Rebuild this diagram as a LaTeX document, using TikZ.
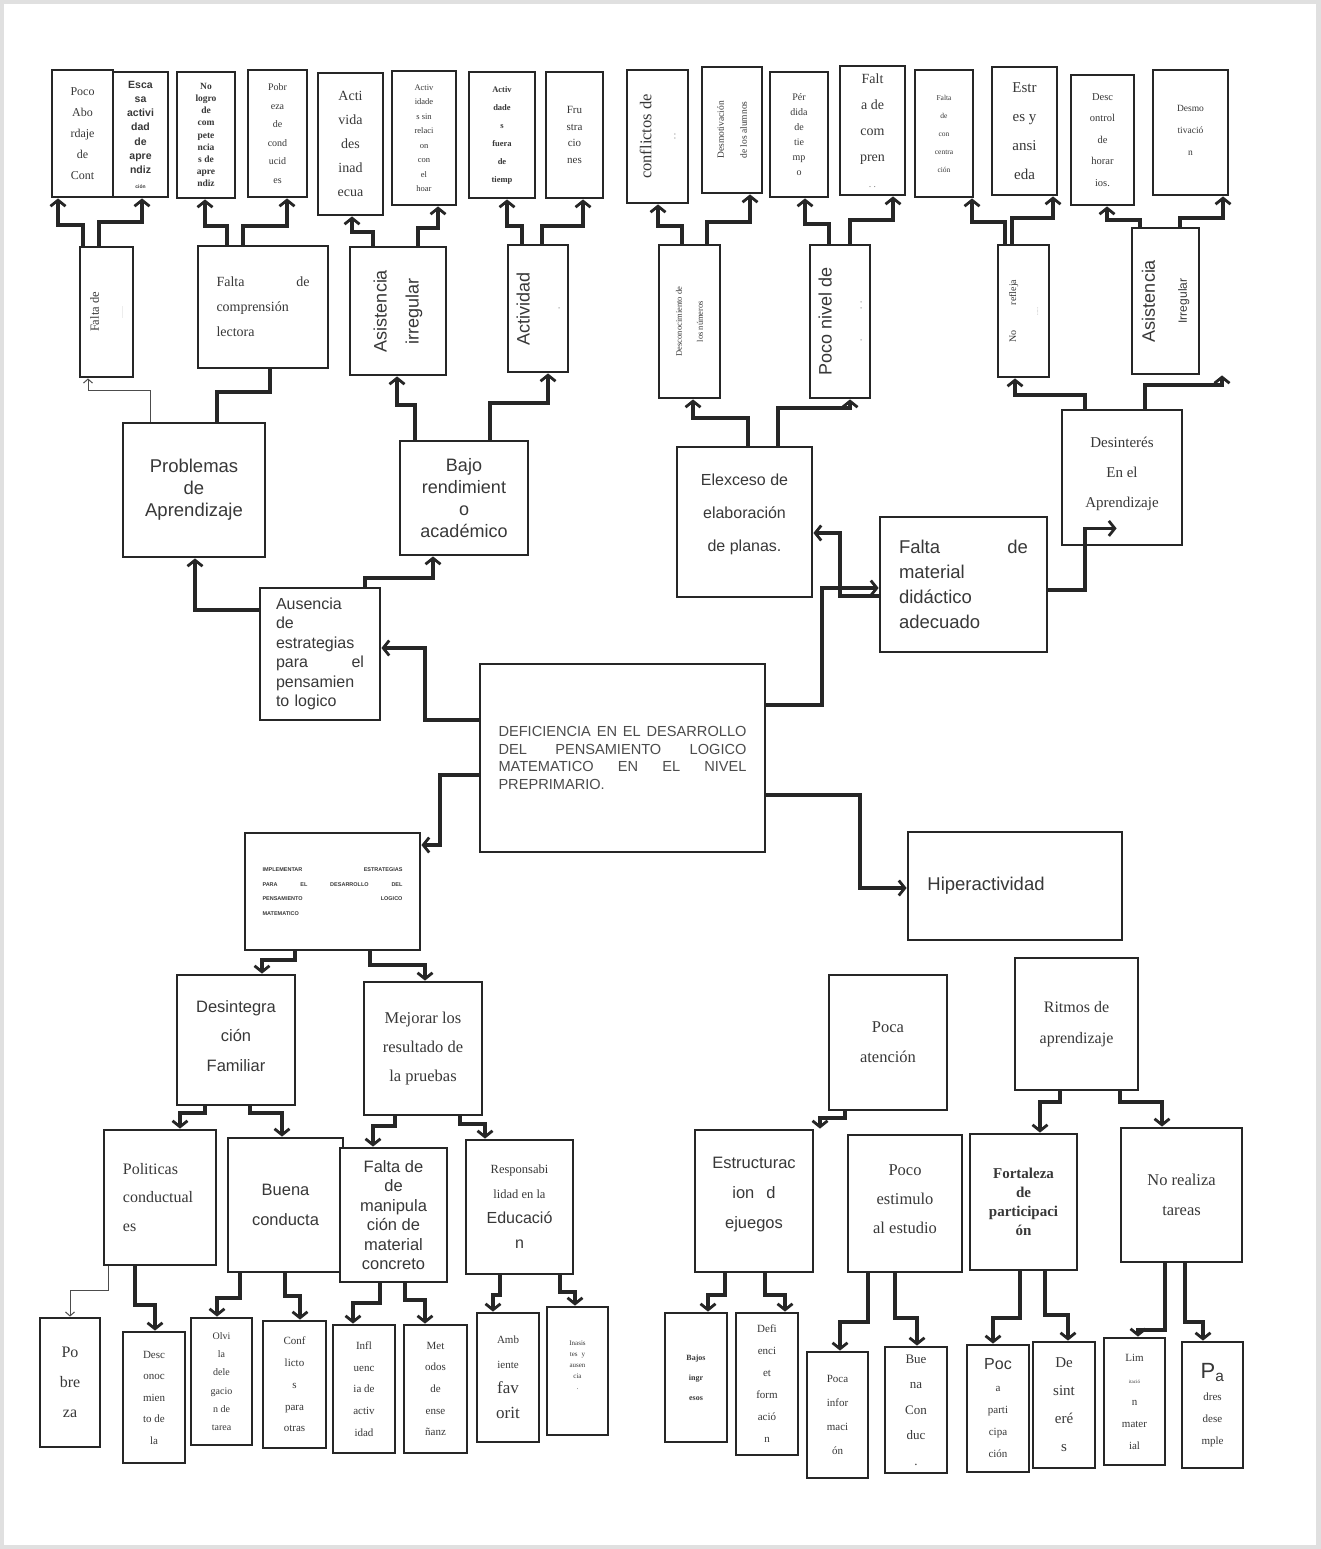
\documentclass[tikz,border=0pt]{standalone}
\usepackage{fontspec}
\setmainfont{Liberation Serif}
\setsansfont{Liberation Sans}
\usetikzlibrary{fit,arrows.meta}
\newcommand{\myfz}[2]{\fontsize{#1}{#2}\selectfont}
\newcommand{\bx}[7]{%
  \node[box, fit={(#2,#3) (#4,#5)}] (#1) {};
  \node[txt, #6] (#1t) at (#1.center) {#7};}
\tikzset{
  box/.style={draw=black!85, line width=2.8pt, inner sep=0pt, fill=white, rectangle},
  txt/.style={text=black!78, align=center, inner sep=0pt},
  conn/.style={draw=black!85, line width=3.2pt, line join=miter,
    -{Straight Barb[length=6pt,width=15pt,line width=2.8pt]}},
  nconn/.style={draw=black!85, line width=3.2pt, line join=miter},
  thinc/.style={draw=black!70, line width=1pt, -{Straight Barb[length=4pt,width=9pt]}}
}
\begin{document}
\begin{tikzpicture}[x=1pt,y=-1pt]
\useasboundingbox (0,0) rectangle (1320,1549);
\fill[white] (0,0) rectangle (1320,1549);
\draw[black!12, line width=8pt] (0,0) rectangle (1320,1549);

% ---------- top row ----------
\bx{t1}{52}{70}{113}{197}{font=\myfz{12}{21}}{Poco\\Abo\\rdaje\\de\\Cont}
\bx{t2}{113}{72}{168}{197}{font=\sffamily\bfseries\myfz{10.5}{14.3}}{Esca\\sa\\activi\\dad\\de\\apre\\ndiz\\{\myfz{5}{6}ción}}
\bx{t3}{177}{72}{235}{198}{font=\bfseries\myfz{9.5}{12.2}}{No\\logro\\de\\com\\pete\\ncia\\s de\\apre\\ndiz}
\bx{t4}{248}{70}{307}{197}{font=\myfz{10}{18.5}}{Pobr\\eza\\de\\cond\\ucid\\es}
\bx{t5}{318}{73}{383}{215}{font=\myfz{14}{24}}{Acti\\vida\\des\\inad\\ecua}
\bx{t6}{392}{71}{456}{205}{font=\myfz{8.5}{14.5}}{Activ\\idade\\s sin\\relaci\\on\\con\\el\\hoar}
\bx{t7}{469}{72}{535}{198}{font=\bfseries\myfz{8.5}{18}}{Activ\\dade\\s\\fuera\\de\\tiemp}
\bx{t8}{546}{72}{603}{198}{font=\myfz{11}{16.5}}{Fru\\stra\\cio\\nes}
\bx{t9}{627}{70}{688}{203}{font=\myfz{16.5}{24}, rotate=90}{conflictos de\\{\myfz{8}{10}. .}}
\bx{t10}{702}{67}{762}{193}{font=\myfz{9.5}{23}, rotate=90}{Desmotivación\\de los alumnos}
\bx{t11}{770}{72}{828}{197}{font=\myfz{10}{15}}{Pér\\dida\\de\\tie\\mp\\o}
\bx{t12}{840}{66}{905}{195}{font=\myfz{14}{26}}{Falt\\a de\\com\\pren\\{\myfz{8}{8}. .}}
\bx{t13}{915}{70}{973}{197}{font=\myfz{7.5}{18}}{Falta\\de\\con\\centra\\ción}
\bx{t14}{992}{67}{1057}{195}{font=\myfz{15}{29}}{Estr\\es y\\ansi\\eda}
\bx{t15}{1071}{75}{1134}{205}{font=\myfz{10.5}{21.5}}{Desc\\ontrol\\de\\horar\\ios.}
\bx{t16}{1153}{70}{1228}{195}{font=\myfz{9.5}{22}, yshift=2pt}{Desmo\\tivació\\n}

% ---------- second tier ----------
\bx{s1}{80}{247}{133}{377}{font=\myfz{12.5}{24}, rotate=90}{Falta de\\{\myfz{3}{4}\ldots\ldots\ldots\ldots}}
\bx{s2}{198}{246}{328}{368}{font=\myfz{14}{25}, text width=93pt, align=left}{Falta\hfill de\\comprensión\\lectora}
\bx{s3}{350}{247}{446}{375}{font=\sffamily\myfz{18}{32}, rotate=90}{Asistencia\\irregular}
\bx{s4}{508}{245}{568}{372}{font=\sffamily\myfz{18}{30}, rotate=90}{Actividad\\{\myfz{8}{8}.}}
\bx{s5}{659}{245}{720}{398}{font=\myfz{8.5}{21}, rotate=90}{Desconocimiento de\\los números}
\bx{s6}{810}{245}{870}{398}{font=\sffamily\myfz{18}{30}, rotate=90}{Poco nivel de\\{\myfz{8}{8}.\hspace{30pt}. .}}
\bx{s7}{998}{245}{1049}{377}{font=\myfz{10}{22}, rotate=90}{No\hspace{25pt}refleja\\{\myfz{4}{5}\ldots\ldots}}
\bx{s8}{1132}{228}{1199}{374}{font=\sffamily\myfz{18}{32}, rotate=90}{Asistencia\\{\myfz{12}{12}Irregular}}

% ---------- third tier ----------
\bx{p1}{123}{423}{265}{557}{font=\sffamily\myfz{18.5}{22}}{Problemas\\de\\Aprendizaje}
\bx{p2}{400}{441}{528}{555}{font=\sffamily\myfz{18}{22}}{Bajo\\rendimient\\o\\académico}
\bx{p3}{677}{447}{812}{597}{font=\sffamily\myfz{16}{33}, yshift=8pt}{Elexceso de\\elaboración\\de planas.}
\bx{p4}{1062}{410}{1182}{545}{font=\myfz{15}{30}, yshift=4pt}{Desinterés\\En el\\Aprendizaje}
\bx{m1}{880}{517}{1047}{652}{font=\sffamily\myfz{18.5}{25}, text width=129pt, align=left}{Falta\hfill de\\material\\didáctico\\adecuado}
\bx{a1}{260}{588}{380}{720}{font=\sffamily\myfz{16}{19.5}, text width=88pt, align=left}{Ausencia\\de\\estrategias\\para\hfill el\\pensamien\\to logico}
\bx{C}{480}{664}{765}{852}{font=\sffamily\myfz{14.6}{17.5}, text width=248pt, align=left, text=black!70}{DEFICIENCIA\hfill EN\hfill EL\hfill DESARROLLO\\DEL\hfill PENSAMIENTO\hfill LOGICO\\MATEMATICO\hfill EN\hfill EL\hfill NIVEL\\PREPRIMARIO.}
\bx{I}{245}{833}{420}{950}{font=\sffamily\bfseries\myfz{5.5}{14.5}, text width=140pt, align=left}{IMPLEMENTAR\hfill ESTRATEGIAS\\PARA\hfill EL\hfill DESARROLLO\hfill DEL\\PENSAMIENTO\hfill LOGICO\\MATEMATICO}
\bx{H}{908}{832}{1122}{940}{font=\sffamily\myfz{18.5}{22}, xshift=-29pt}{Hiperactividad}

% ---------- lower tier ----------
\bx{d1}{177}{975}{295}{1105}{font=\sffamily\myfz{16.5}{29.5}, yshift=4pt}{Desintegra\\ción\\Familiar}
\bx{d2}{364}{982}{482}{1115}{font=\myfz{16.5}{29}}{Mejorar los\\resultado de\\la pruebas}
\bx{d3}{829}{975}{947}{1110}{font=\myfz{16.5}{30}}{Poca\\atención}
\bx{d4}{1015}{958}{1138}{1090}{font=\myfz{16}{31}}{Ritmos de\\aprendizaje}

\bx{e1}{104}{1130}{216}{1265}{font=\myfz{16}{28.5}, align=left, xshift=-2pt}{Politicas\\conductual\\es}
\bx{e2}{228}{1138}{343}{1272}{font=\sffamily\myfz{16.5}{30}}{Buena\\conducta}
\bx{e3}{340}{1148}{447}{1282}{font=\sffamily\myfz{16.5}{19.5}}{Falta de\\de\\manipula\\ción de\\material\\concreto}
\bx{e4}{466}{1140}{573}{1274}{font=\myfz{12.5}{25}}{Responsabi\\lidad en la\\{\sffamily\myfz{16}{30}Educació}\\{\sffamily\myfz{16}{30}n}}
\bx{e5}{695}{1130}{813}{1272}{font=\sffamily\myfz{16.5}{30}, yshift=6pt}{Estructurac\\ion\hspace{12pt}d\\ejuegos}
\bx{e6}{848}{1135}{962}{1272}{font=\myfz{16.5}{29}, yshift=4pt}{Poco\\estimulo\\al estudio}
\bx{e7}{970}{1134}{1077}{1270}{font=\bfseries\myfz{15}{19}}{Fortaleza\\de\\participaci\\ón}
\bx{e8}{1121}{1128}{1242}{1262}{font=\myfz{16.5}{30}}{No realiza\\tareas}

% ---------- bottom row ----------
\bx{b1}{40}{1318}{100}{1447}{font=\myfz{16}{30}}{Po\\bre\\za}
\bx{b2}{123}{1332}{185}{1463}{font=\myfz{11}{21.5}}{Desc\\onoc\\mien\\to de\\la}
\bx{b3}{191}{1318}{252}{1445}{font=\myfz{10}{18.3}}{Olvi\\la\\dele\\gacio\\n de\\tarea}
\bx{b4}{263}{1321}{326}{1448}{font=\myfz{11}{21.7}}{Conf\\licto\\s\\para\\otras}
\bx{b5}{333}{1325}{395}{1453}{font=\myfz{11}{21.7}}{Infl\\uenc\\ia de\\activ\\idad}
\bx{b6}{404}{1325}{467}{1453}{font=\myfz{11}{21.7}}{Met\\odos\\de\\ense\\ñanz}
\bx{b7}{477}{1313}{539}{1442}{font=\myfz{11}{25}}{Amb\\iente\\{\myfz{17}{28}fav}\\{\myfz{17}{28}orit}}
\bx{b8}{547}{1307}{608}{1435}{font=\myfz{7}{11}, yshift=6pt}{Inasis\\tes\hspace{4pt}y\\ausen\\cia\\.}
\bx{b9}{665}{1313}{727}{1442}{font=\bfseries\myfz{8}{20}}{Bajos\\ingr\\esos}
\bx{b10}{736}{1313}{798}{1455}{font=\myfz{11}{22}}{Defi\\enci\\et\\form\\ació\\n}
\bx{b11}{807}{1352}{868}{1478}{font=\myfz{11}{24}}{Poca\\infor\\maci\\ón}
\bx{b12}{885}{1347}{947}{1473}{font=\myfz{13}{25.5}}{Bue\\na\\Con\\duc\\.}
\bx{b13}{967}{1345}{1029}{1472}{font=\myfz{11}{22}}{{\sffamily\myfz{16}{22}Poc}\\a\\parti\\cipa\\ción}
\bx{b14}{1033}{1342}{1095}{1468}{font=\myfz{15}{28}}{De\\sint\\eré\\s}
\bx{b15}{1104}{1338}{1165}{1465}{font=\myfz{11}{22}}{Lim\\{\myfz{5}{8}itació}\\n\\mater\\ial}
\bx{b16}{1182}{1342}{1243}{1468}{font=\myfz{11}{22}}{{\sffamily\myfz{22}{24}P\textsubscript{a}}\\dres\\dese\\mple}

% ---------- connectors: second tier -> top row ----------
\draw[conn] (s1.north -| 83,0) -- (83,225) -| (t1.south -| 58,0);
\draw[conn] (s1.north -| 99,0) -- (99,222) -| (t2.south -| 142,0);
\draw[conn] (s2.north -| 227,0) -- (227,226) -| (t3.south -| 205,0);
\draw[conn] (s2.north -| 243,0) -- (243,226) -| (t4.south -| 287,0);
\draw[conn] (s3.north -| 373,0) -- (373,232) -| (t5.south -| 352,0);
\draw[conn] (s3.north -| 418,0) -- (418,228) -| (t6.south -| 438,0);
\draw[conn] (s4.north -| 522,0) -- (522,226) -| (t7.south -| 507,0);
\draw[conn] (s4.north -| 542,0) -- (542,226) -| (t8.south -| 583,0);
\draw[conn] (s5.north -| 682,0) -- (682,226) -| (t9.south -| 658,0);
\draw[conn] (s5.north -| 707,0) -- (707,222) -| (t10.south -| 750,0);
\draw[conn] (s6.north -| 829,0) -- (829,224) -| (t11.south -| 805,0);
\draw[conn] (s6.north -| 850,0) -- (850,220) -| (t12.south -| 893,0);
\draw[conn] (s7.north -| 1005,0) -- (1005,222) -| (t13.south -| 972,0);
\draw[conn] (s7.north -| 1012,0) -- (1012,218) -| (t14.south -| 1053,0);
\draw[conn] (s8.north -| 1140,0) -- (1140,220) -| (t15.south -| 1107,0);
\draw[conn] (s8.north -| 1180,0) -- (1180,218) -| (t16.south -| 1223,0);

% ---------- third tier -> second tier ----------
\draw[thinc] (p1.north -| 150,0) -- (150,390) -| (s1.south -| 88,0);
\draw[nconn] (p1.north -| 217,0) -- (217,392) -| (s2.south -| 270,0);
\draw[conn] (p2.north -| 415,0) -- (415,405) -| (s3.south -| 397,0);
\draw[conn] (p2.north -| 490,0) -- (490,403) -| (s4.south -| 548,0);
\draw[conn] (p3.north -| 748,0) -- (748,418) -| (s5.south -| 693,0);
\draw[conn] (p3.north -| 778,0) -- (778,408) -| (s6.south -| 850,0);
\draw[conn] (p4.north -| 1085,0) -- (1085,395) -| (s7.south -| 1015,0);
\draw[conn] (p4.north -| 1145,0) -- (1145,385) -| (s8.south -| 1222,0);

% ---------- centre ----------
\draw[conn] (C.west |- 0,720) -| (425,648) -- (a1.east |- 0,648);
\draw[conn] (C.west |- 0,775) -| (440,845) -- (I.east |- 0,845);
\draw[conn] (C.east |- 0,705) -| (822,588) -- (m1.west |- 0,588);
\draw[conn] (C.east |- 0,795) -| (860,888) -- (H.west |- 0,888);
\draw[conn] (a1.west |- 0,610) -| (p1.south -| 195,0);
\draw[conn] (a1.north -| 365,0) -- (365,578) -| (p2.south -| 433,0);
\draw[conn] (m1.west |- 0,596) -- (840,596) |- (p3.east |- 0,533);
\draw[conn] (m1.east |- 0,590) -- (1085,590) |- ([shift={(56,-18)}]p4.south west);

% ---------- lower ----------
\draw[conn] (I.south -| 295,0) -- (295,960) -| (d1.north -| 262,0);
\draw[conn] (I.south -| 370,0) -- (370,965) -| (d2.north -| 425,0);
\draw[conn] (d1.south -| 205,0) -- (205,1113) -| (e1.north -| 180,0);
\draw[conn] (d1.south -| 250,0) -- (250,1113) -| (e2.north -| 282,0);
\draw[conn] (d2.south -| 395,0) -- (395,1126) -| (e3.north -| 373,0);
\draw[conn] (d2.south -| 460,0) -- (460,1124) -| (e4.north -| 485,0);
\draw[conn] (d3.south -| 845,0) -- (845,1118) -| (e5.north -| 820,0);
\draw[conn] (d4.south -| 1060,0) -- (1060,1102) -| (e7.north -| 1040,0);
\draw[conn] (d4.south -| 1120,0) -- (1120,1102) -| (e8.north -| 1162,0);

% ---------- fourth tier -> bottom row ----------
\draw[thinc] (e1.south -| 108,0) -- (108,1290) -| (b1.north -| 70,0);
\draw[conn] (e1.south -| 135,0) -- (135,1305) -| (b2.north -| 155,0);
\draw[conn] (e2.south -| 240,0) -- (240,1298) -| (b3.north -| 217,0);
\draw[conn] (e2.south -| 285,0) -- (285,1296) -| (b4.north -| 300,0);
\draw[conn] (e3.south -| 380,0) -- (380,1303) -| (b5.north -| 353,0);
\draw[conn] (e3.south -| 405,0) -- (405,1300) -| (b6.north -| 425,0);
\draw[conn] (e4.south -| 500,0) -- (500,1295) -| (b7.north -| 493,0);
\draw[conn] (e4.south -| 560,0) -- (560,1292) -| (b8.north -| 575,0);
\draw[conn] (e5.south -| 725,0) -- (725,1295) -| (b9.north -| 708,0);
\draw[conn] (e5.south -| 765,0) -- (765,1295) -| (b10.north -| 785,0);
\draw[conn] (e6.south -| 868,0) -- (868,1322) -| (b11.north -| 840,0);
\draw[conn] (e6.south -| 895,0) -- (895,1318) -| (b12.north -| 917,0);
\draw[conn] (e7.south -| 1020,0) -- (1020,1318) -| (b13.north -| 993,0);
\draw[conn] (e7.south -| 1045,0) -- (1045,1315) -| (b14.north -| 1068,0);
\draw[conn] (e8.south -| 1165,0) -- (1165,1330) -| (b15.north -| 1138,0);
\draw[conn] (e8.south -| 1185,0) -- (1185,1322) -| (b16.north -| 1203,0);
\end{tikzpicture}
\end{document}
